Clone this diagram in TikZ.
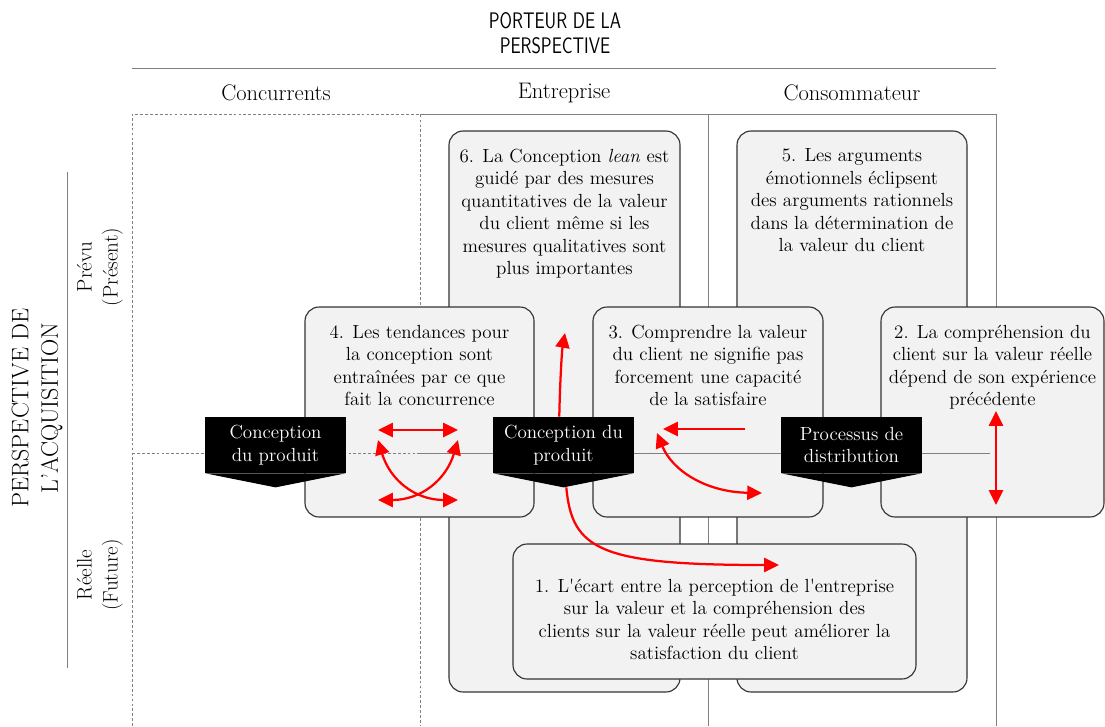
\documentclass[tikz,border=0pt]{standalone}
\usetikzlibrary{positioning,fit,arrows.meta}
\definecolor{boxgray}{RGB}{242,242,242}
\definecolor{boxline}{RGB}{51,51,51}
\definecolor{linegray}{RGB}{128,128,128}
\tikzset{
  gridline/.style={draw=linegray, line width=0.6pt},
  dashline/.style={gridline, dashed, dash pattern=on 2pt off 1.5pt},
  box/.style={draw=boxline, fill=boxgray, line width=0.8pt, rounded corners=10pt, inner sep=0pt},
  boxtext/.style={align=center, inner sep=0pt, font=\fontsize{13.5}{16}\selectfont},
  header/.style={font=\fontsize{16}{18}\selectfont},
  sidelabel/.style={rotate=90, align=center, font=\fontsize{15}{18.5}\selectfont},
  tag/.style={fill=black, text=white, align=center, inner sep=0pt, minimum width=3.5cm, minimum height=1.4cm, font=\fontsize{13.5}{16}\selectfont},
  redarrow/.style={draw=red, line width=1.6pt, >={Triangle[length=10.5pt,width=10pt]}}
}
\begin{document}
\begin{tikzpicture}[x=0.025cm, y=-0.025cm]
\useasboundingbox (0,0) rectangle (1105,726);

\node[align=center, font=\sffamily\fontsize{16}{18}\selectfont] (title) at (555,33) {\scalebox{0.8}[1]{PORTEUR DE LA}\\\scalebox{0.8}[1]{PERSPECTIVE}};
\draw[gridline] (132,68) -- (996,68);
\node[header] (hconc) at (276,93) {Concurrents};
\node[header] (hent) at (564,93) {Entreprise};
\node[header] (hcons) at (852,93) {Consommateur};

\node[sidelabel, font=\fontsize{17}{21}\selectfont] (acq) at (37,408) {PERSPECTIVE DE\\L'ACQUISITION};
\draw[gridline] (67,172) -- (67,668);
\node[sidelabel] (prevu) at (100,267) {Prévu\\(Présent)};
\node[sidelabel] (reelle) at (100,575) {Réelle\\(Future)};

\draw[dashline] (132,726) -- (132,114) -- (420,114) -- (420,726);
\draw[gridline] (420,114) -- (996,114) -- (996,726);
\draw[gridline] (708,114) -- (708,726);

\node[box, fit={(449,131) (680,692)}] (box6) {};
\node[box, fit={(737,131) (967,692)}] (box5) {};
\node[box, fit={(305,307) (534,517)}] (box4) {};
\node[box, fit={(593,307) (823,517)}] (box3) {};
\node[box, fit={(881,307) (1104,517)}] (box2) {};
\node[box, fit={(513,544) (916,679)}] (box1) {};

\node[boxtext, below=13pt of box6.north] (t6) {6. La Conception \textit{lean} est\\guidé par des mesures\\quantitatives de la valeur\\du client même si les\\mesures qualitatives sont\\plus importantes};
\node[boxtext, below=13pt of box5.north] (t5) {5. Les arguments\\émotionnels éclipsent\\des arguments rationnels\\dans la détermination de\\la valeur du client};
\node[boxtext, below=13pt of box4.north] (t4) {4. Les tendances pour\\la conception sont\\entraînées par ce que\\fait la concurrence};
\node[boxtext, below=13pt of box3.north] (t3) {3. Comprendre la valeur\\du client ne signifie pas\\forcement une capacité\\de la satisfaire};
\node[boxtext, below=13pt of box2.north] (t2) {2. La compréhension du\\client sur la valeur réelle\\dépend de son expérience\\précédente};
\node[boxtext, below=25pt of box1.north] (t1) {1. L\textquotesingle écart entre la perception de l\textquotesingle entreprise\\sur la valeur et la compréhension des\\clients sur la valeur réelle peut améliorer la\\satisfaction du client};

\draw[dashline] (132,453) -- (420,453);
\draw[gridline] (420,453) -- (990,453);

\node[tag] (tagA) at (275.5,445) {Conception\\du produit};
\fill (tagA.south west) -- (tagA.south east) -- ([yshift=-10pt]tagA.south) -- cycle;
\node[tag] (tagB) at (563.5,445) {Conception du\\produit};
\fill (tagB.south west) -- (tagB.south east) -- ([yshift=-10pt]tagB.south) -- cycle;
\node[tag] (tagC) at (851.5,445) {Processus de\\distribution};
\fill (tagC.south west) -- (tagC.south east) -- ([yshift=-10pt]tagC.south) -- cycle;

\draw[redarrow, <->] (378,430) -- (458,430);
\draw[redarrow, <->] (378,440) .. controls (390,480) and (415,500) .. (458,500);
\draw[redarrow, <->] (458,440) .. controls (446,480) and (421,500) .. (378,500);
\draw[redarrow, ->] ([xshift=-3pt]tagB.north) .. controls (560,380) and (562,350) .. (565,333);
\draw[redarrow, ->] ([xshift=2pt,yshift=-10pt]tagB.south) .. controls (572,550) and (600,565) .. (779,565);
\draw[redarrow, ->] (745,429) -- (663,429);
\draw[redarrow, <->] (657,433) .. controls (672,470) and (705,492) .. (762,493);
\draw[redarrow, <->] (996,411) -- (996,505);
\end{tikzpicture}
\end{document}
